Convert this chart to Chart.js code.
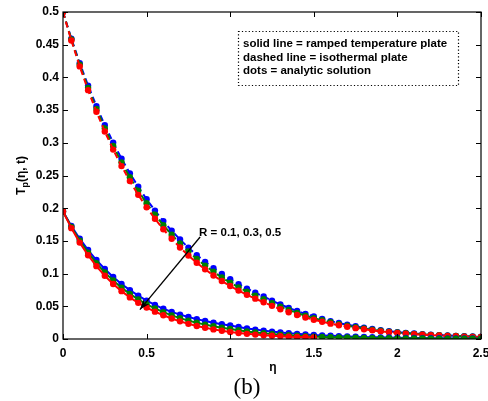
<!DOCTYPE html>
<html>
<head>
<meta charset="utf-8">
<script src="https://cdn.jsdelivr.net/npm/chart.js@4.4.1/dist/chart.umd.min.js"></script>
<style>
  html, body { margin: 0; padding: 0; background: #fff; }
  #wrap { width: 488px; height: 401px; }
</style>
</head>
<body>
<div id="wrap"><canvas id="myChart" width="488" height="401"></canvas></div>
<script>
// eta grid (step 0.05)
const eta = [0, 0.05, 0.1, 0.15, 0.2, 0.25, 0.3, 0.35, 0.4, 0.45, 0.5, 0.55, 0.6, 0.65, 0.7, 0.75, 0.8, 0.85, 0.9, 0.95,
  1, 1.05, 1.1, 1.15, 1.2, 1.25, 1.3, 1.35, 1.4, 1.45, 1.5, 1.55, 1.6, 1.65, 1.7, 1.75, 1.8, 1.85, 1.9, 1.95,
  2, 2.05, 2.1, 2.15, 2.2, 2.25, 2.3, 2.35, 2.4, 2.45, 2.5];

// isothermal plate (dashed), R = 0.1, 0.3, 0.5
const isoR01 = [0.5, 0.4593, 0.4219, 0.3875, 0.3559, 0.3269, 0.3003, 0.2758, 0.2533, 0.2327, 0.2137, 0.1963, 0.1803, 0.1656, 0.1521, 0.1397, 0.1283, 0.1179, 0.1083, 0.0994,
  0.0913, 0.0839, 0.0771, 0.0708, 0.065, 0.0587, 0.0529, 0.0476, 0.0427, 0.0383, 0.0343, 0.0307, 0.0274, 0.0244, 0.0218, 0.0194, 0.0172, 0.0152, 0.0135, 0.0119,
  0.0105, 0.0094, 0.0084, 0.0075, 0.0067, 0.006, 0.0054, 0.0048, 0.0043, 0.0038, 0.0034];
const isoR03 = [0.5, 0.4579, 0.4194, 0.384, 0.3517, 0.3221, 0.295, 0.2701, 0.2474, 0.2266, 0.2075, 0.1901, 0.1741, 0.1594, 0.146, 0.1337, 0.1225, 0.1122, 0.1028, 0.0941,
  0.0862, 0.079, 0.0723, 0.0663, 0.0607, 0.0547, 0.0493, 0.0443, 0.0397, 0.0356, 0.0319, 0.0286, 0.0255, 0.0227, 0.0203, 0.018, 0.016, 0.0142, 0.0126, 0.0111,
  0.0099, 0.0088, 0.0079, 0.0071, 0.0063, 0.0057, 0.0051, 0.0045, 0.004, 0.0036, 0.0032];
const isoR05 = [0.5, 0.4565, 0.4168, 0.3805, 0.3475, 0.3172, 0.2896, 0.2644, 0.2414, 0.2204, 0.2013, 0.1838, 0.1678, 0.1532, 0.1399, 0.1277, 0.1166, 0.1065, 0.0972, 0.0887,
  0.081, 0.074, 0.0675, 0.0617, 0.0563, 0.0507, 0.0456, 0.0409, 0.0367, 0.0329, 0.0295, 0.0264, 0.0235, 0.021, 0.0187, 0.0166, 0.0148, 0.0132, 0.0117, 0.0103,
  0.0092, 0.0082, 0.0073, 0.0066, 0.0059, 0.0053, 0.0047, 0.0042, 0.0037, 0.0033, 0.003];

// ramped temperature plate (solid)
const rampR01 = [0.195, 0.1729, 0.1534, 0.136, 0.1207, 0.107, 0.0949, 0.0842, 0.0747, 0.0662, 0.0587, 0.0521, 0.0462, 0.0415, 0.0373, 0.0336, 0.0304, 0.0275, 0.0249, 0.0226,
  0.0206, 0.0183, 0.0162, 0.0144, 0.0128, 0.0113, 0.0101, 0.0089, 0.0079, 0.007, 0.0062, 0.0055, 0.0049, 0.0044, 0.0039, 0.0035, 0.0031, 0.0028, 0.0025, 0.0022,
  0.002, 0.0017, 0.0016, 0.0014, 0.0012, 0.0011, 0.001, 0.0009, 0.0008, 0.0007, 0.0006];
const rampR03 = [0.195, 0.1712, 0.1504, 0.132, 0.1159, 0.1018, 0.0894, 0.0785, 0.0689, 0.0605, 0.0531, 0.0467, 0.041, 0.0361, 0.0319, 0.0281, 0.0249, 0.022, 0.0194, 0.0172,
  0.0152, 0.0133, 0.0115, 0.01, 0.0087, 0.0076, 0.0066, 0.0057, 0.0049, 0.0042, 0.0037, 0.0032, 0.0028, 0.0025, 0.0022, 0.0019, 0.0017, 0.0014, 0.0013, 0.0011,
  0.001, 0.0009, 0.0008, 0.0007, 0.0006, 0.0005, 0.0005, 0.0004, 0.0003, 0.0003, 0.0003];
const rampR05 = [0.195, 0.1695, 0.1474, 0.1281, 0.1114, 0.0968, 0.0842, 0.0732, 0.0636, 0.0553, 0.0481, 0.0418, 0.0363, 0.0313, 0.027, 0.0232, 0.0199, 0.0171, 0.0147, 0.0126,
  0.0107, 0.0092, 0.0079, 0.0067, 0.0057, 0.0049, 0.0042, 0.0035, 0.003, 0.0026, 0.0022];

const xTicks = [0, 0.5, 1, 1.5, 2, 2.5];
const yTicks = [0, 0.05, 0.1, 0.15, 0.2, 0.25, 0.3, 0.35, 0.4, 0.45, 0.5];

const legendLines = ["solid line = ramped temperature plate", "dashed line = isothermal plate", "dots = analytic solution"];

const BLUE = "rgb(0, 0, 255)";
const GREEN = "rgb(0, 128, 0)";
const RED = "rgb(255, 0, 0)";
const FONT = "'Liberation Sans', Arial, sans-serif";

function pts(arr) {
  const out = [];
  arr.forEach((v, i) => {
    if (v != null) out.push({ x: eta[i], y: v });
  });
  return out;
}

function series(arr, color, dashed, order) {
  return {
    data: pts(arr),
    borderColor: color,
    backgroundColor: color,
    borderWidth: 2,
    borderDash: dashed ? [6, 4] : [],
    pointRadius: 3.2,
    pointBorderWidth: 0,
    pointBackgroundColor: color,
    showLine: true,
    tension: 0,
    order: order,
  };
}

// box, inward ticks, legend box, arrow, titles
const decor = {
  id: "decor",
  afterDraw(chart) {
    const { ctx, chartArea: a, scales } = chart;
    const xs = scales.x, ys = scales.y;
    ctx.save();
    ctx.strokeStyle = "#000";
    ctx.lineWidth = 1.2;
    ctx.strokeRect(a.left, a.top, a.right - a.left, a.bottom - a.top);

    // inward ticks on all four sides
    ctx.beginPath();
    xTicks.forEach((t) => {
      const px = Math.round(xs.getPixelForValue(t)) + 0.5;
      ctx.moveTo(px, a.bottom); ctx.lineTo(px, a.bottom - 5);
      ctx.moveTo(px, a.top); ctx.lineTo(px, a.top + 5);
    });
    yTicks.forEach((t) => {
      const py = Math.round(ys.getPixelForValue(t)) + 0.5;
      ctx.moveTo(a.left, py); ctx.lineTo(a.left + 5, py);
      ctx.moveTo(a.right, py); ctx.lineTo(a.right - 5, py);
    });
    ctx.lineWidth = 1;
    ctx.stroke();

    // legend note box
    ctx.setLineDash([1.2, 2.2]);
    ctx.lineWidth = 1.2;
    ctx.strokeRect(238.5, 31.5, 220, 54);
    ctx.setLineDash([]);
    ctx.fillStyle = "#000";
    ctx.font = "bold 11.5px " + FONT;
    ctx.textBaseline = "middle";
    ctx.textAlign = "left";
    legendLines.forEach((s, i) => ctx.fillText(s, 243, 44 + i * 13.5));

    // arrow R = 0.1, 0.3, 0.5
    const x0 = xs.getPixelForValue(0.82), y0 = ys.getPixelForValue(0.156);
    const x1 = xs.getPixelForValue(0.46), y1 = ys.getPixelForValue(0.045);
    ctx.beginPath();
    ctx.moveTo(x0, y0); ctx.lineTo(x1, y1);
    ctx.lineWidth = 1.3;
    ctx.stroke();
    const ang = Math.atan2(y1 - y0, x1 - x0);
    ctx.beginPath();
    ctx.moveTo(x1, y1);
    ctx.lineTo(x1 - 11 * Math.cos(ang - 0.35), y1 - 11 * Math.sin(ang - 0.35));
    ctx.lineTo(x1 - 7 * Math.cos(ang), y1 - 7 * Math.sin(ang));
    ctx.lineTo(x1 - 11 * Math.cos(ang + 0.35), y1 - 11 * Math.sin(ang + 0.35));
    ctx.closePath();
    ctx.fill();
    ctx.font = "bold 11.5px " + FONT;
    ctx.fillText("R = 0.1, 0.3, 0.5", x0 - 1, y0 - 4);

    // x title
    ctx.textAlign = "center";
    ctx.font = "bold 12px " + FONT;
    ctx.fillText("η", (a.left + a.right) / 2 + 1, 368);

    // y title with subscript
    ctx.save();
    ctx.translate(22, (a.top + a.bottom) / 2);
    ctx.rotate(-Math.PI / 2);
    ctx.textAlign = "left";
    const big = "bold 12px " + FONT, small = "bold 9px " + FONT;
    ctx.font = big; const wT = ctx.measureText("T").width;
    ctx.font = small; const wp = ctx.measureText("p").width;
    ctx.font = big; const wr = ctx.measureText("(η, t)").width;
    let cx = -(wT + wp + wr) / 2;
    ctx.font = big; ctx.fillText("T", cx, 0); cx += wT;
    ctx.font = small; ctx.fillText("p", cx, 4); cx += wp;
    ctx.font = big; ctx.fillText("(η, t)", cx, 0);
    ctx.restore();

    // panel label
    ctx.textAlign = "center";
    ctx.font = "23px 'Liberation Serif', 'Times New Roman', serif";
    ctx.fillText("(b)", 247, 388);
    ctx.restore();
  },
};

const ctx = document.getElementById("myChart");

new Chart(ctx, {
  type: "scatter",
  data: {
    datasets: [
      series(isoR01, BLUE, true, 6),
      series(isoR03, GREEN, true, 5),
      series(isoR05, RED, true, 4),
      series(rampR01, BLUE, false, 3),
      series(rampR03, GREEN, false, 2),
      series(rampR05, RED, false, 1),
    ],
  },
  options: {
    responsive: false,
    animation: false,
    devicePixelRatio: 1,
    layout: { padding: { top: 12, right: 7, left: 0, bottom: 0 } },
    plugins: {
      legend: { display: false },
      tooltip: { enabled: false },
    },
    scales: {
      x: {
        type: "linear",
        min: 0,
        max: 2.5,
        afterFit: (scale) => {
          scale.height = 62;
          scale.paddingLeft = 0;
          scale.paddingRight = 0;
        },
        afterBuildTicks: (scale) => { scale.ticks = xTicks.map((v) => ({ value: v })); },
        ticks: {
          autoSkip: false,
          maxRotation: 0,
          padding: 7,
          color: "#000",
          font: { family: FONT, size: 12, weight: "bold" },
          callback: (v) => String(v),
        },
        grid: { display: false, drawTicks: false },
        border: { display: false },
      },
      y: {
        min: 0,
        max: 0.5,
        afterFit: (scale) => {
          scale.width = 63;
          scale.paddingTop = 0;
          scale.paddingBottom = 0;
        },
        afterBuildTicks: (scale) => { scale.ticks = yTicks.map((v) => ({ value: v })); },
        ticks: {
          autoSkip: false,
          padding: 4,
          color: "#000",
          font: { family: FONT, size: 12, weight: "bold" },
          callback: (v) => String(+v.toFixed(2)),
        },
        grid: { display: false, drawTicks: false },
        border: { display: false },
      },
    },
  },
  plugins: [decor],
});
</script>
</body>
</html>
